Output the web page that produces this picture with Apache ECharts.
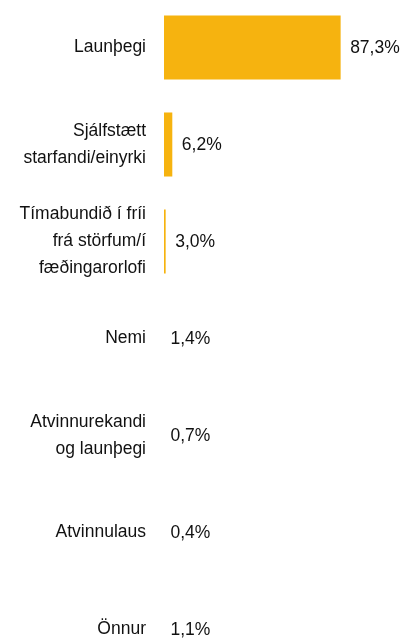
<!DOCTYPE html>
<html>
<head>
<meta charset="utf-8">
<script src="https://cdn.jsdelivr.net/npm/echarts@6/dist/echarts.min.js"></script>
<style>
  html, body { margin: 0; padding: 0; background: #fff; }
  #chart { width: 405px; height: 639px; }
</style>
</head>
<body>
<div id="chart"></div>
<script>
var categories = [
    'Launþegi',
    'Sjálfstætt\nstarfandi/einyrki',
    'Tímabundið í fríi\nfrá störfum/í\nfæðingarorlofi',
    'Nemi',
    'Atvinnurekandi\nog launþegi',
    'Atvinnulaus',
    'Önnur'
];
var values = [87.3, 6.2, 3.0, 1.4, 0.7, 0.4, 1.1];
var axisMin = 2.2;   // bars start here, so small values show no bar
var axisMax = 100;

var FONT = 'Liberation Sans';

function fmt(v) {
    return v.toFixed(1).replace('.', ',') + '%';
}

var echart = echarts.init(document.getElementById('chart'));
var option = {
    animation: false,
    grid: {
        left: 164,
        top: -1,
        right: 38,
        bottom: -39,
        containLabel: false,
        outerBoundsMode: 'none'   // grid runs a bit past the bottom edge, like the original
    },
    xAxis: {
        type: 'value',
        min: axisMin,
        max: axisMax,
        show: false
    },
    yAxis: {
        type: 'category',
        data: categories,
        inverse: true,
        axisLine: { show: false },
        axisTick: { show: false },
        axisLabel: {
            margin: 18,
            fontFamily: FONT,
            fontSize: 17.5,
            lineHeight: 27,
            color: '#111',
            align: 'right'
        }
    },
    series: [{
        type: 'bar',
        data: values,
        barWidth: '66%',
        itemStyle: { color: '#F6B30F' },
        clip: true
    }, {
        // value labels, after the bar end (or after the axis start if there is no bar)
        type: 'custom',
        data: values.map(function (v, i) { return [v, i]; }),
        renderItem: function (params, api) {
            var v = api.value(0);
            var pt = api.coord([Math.max(v, axisMin), api.value(1)]);
            return {
                type: 'text',
                x: pt[0] + (v > axisMin ? 9.5 : 6.5),
                y: pt[1] + 1,
                style: {
                    text: fmt(v),
                    fontFamily: FONT,
                    fontSize: 17.5,
                    fill: '#111',
                    align: 'left',
                    verticalAlign: 'middle'
                }
            };
        }
    }]
};
echart.setOption(option);
</script>
</body>
</html>
